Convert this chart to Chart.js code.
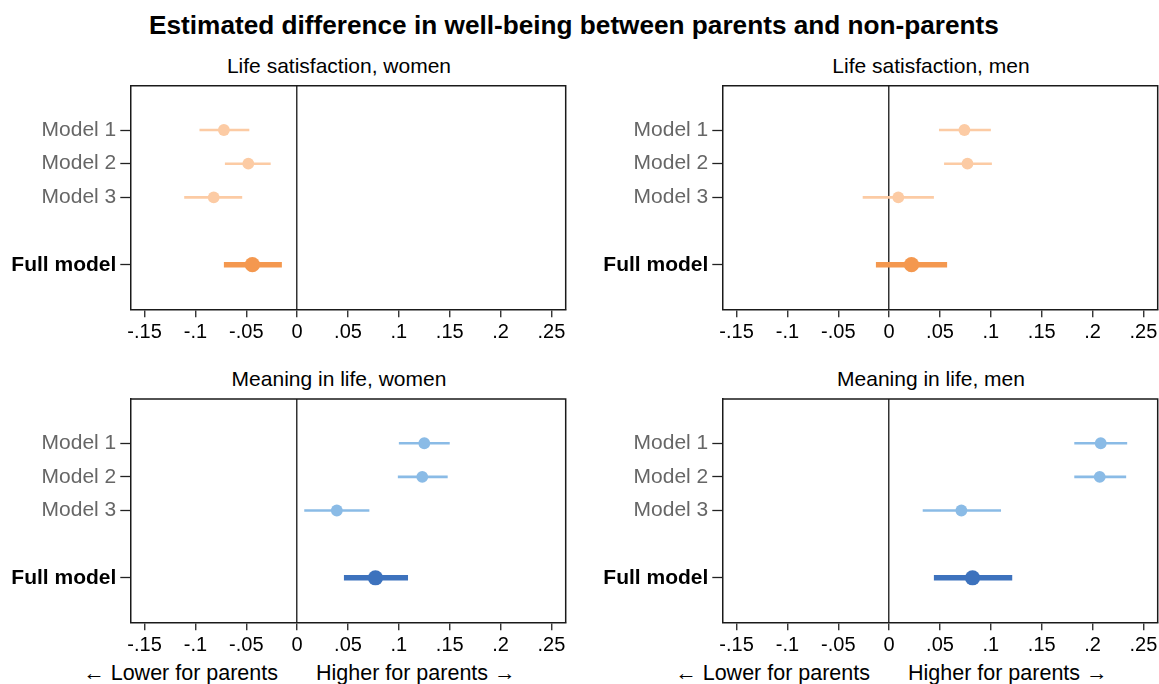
<!DOCTYPE html>
<html><head><meta charset="utf-8">
<script src="https://cdn.jsdelivr.net/npm/chart.js@4.4.0/dist/chart.umd.min.js"></script>
<style>
html,body{margin:0;padding:0;background:#fff;width:1159px;height:684px;overflow:hidden;position:relative;font-family:"Liberation Sans",Arial,Helvetica,sans-serif;}
canvas{position:absolute;}
.txt{position:absolute;white-space:nowrap;color:#000;}
.ptitle{font-size:21px;line-height:24px;text-align:center;width:400px;}
.note{font-size:21.5px;line-height:24px;}
</style></head><body>
<div class="txt" style="left:0;width:1148px;top:11px;text-align:center;font-size:26.2px;font-weight:bold;line-height:28px;">Estimated difference in well-being between parents and non-parents</div>
<div class="txt ptitle" style="left:139px;top:54px;">Life satisfaction, women</div>
<div class="txt ptitle" style="left:731px;top:54px;">Life satisfaction, men</div>
<div class="txt ptitle" style="left:139px;top:367px;">Meaning in life, women</div>
<div class="txt ptitle" style="left:731px;top:367px;">Meaning in life, men</div>
<div class="txt note" style="left:0;width:278px;text-align:right;top:661px;">← Lower for parents</div>
<div class="txt note" style="left:316px;top:661px;">Higher for parents →</div>
<div class="txt note" style="left:0;width:870px;text-align:right;top:661px;">← Lower for parents</div>
<div class="txt note" style="left:908px;top:661px;">Higher for parents →</div>
<canvas id="c1" width="580" height="280" style="left:0;top:80px;"></canvas>
<canvas id="c2" width="579" height="280" style="left:580px;top:80px;"></canvas>
<canvas id="c3" width="580" height="294" style="left:0;top:390px;"></canvas>
<canvas id="c4" width="579" height="294" style="left:580px;top:390px;"></canvas>
<script>
// ---- data ----
const rowLabels = ['Model 1', 'Model 2', 'Model 3', 'Full model'];
const rowPositions = [1, 2, 3, 5];
const xTickValues = [-0.15, -0.1, -0.05, 0, 0.05, 0.1, 0.15, 0.2, 0.25];
const xTickLabels = ['-.15', '-.1', '-.05', '0', '.05', '.1', '.15', '.2', '.25'];

const lsWomenEst = [-0.072, -0.048, -0.082, -0.044];
const lsWomenLo  = [-0.096, -0.071, -0.111, -0.072];
const lsWomenHi  = [-0.047, -0.026, -0.054, -0.015];

const lsMenEst = [0.074, 0.077, 0.009, 0.022];
const lsMenLo  = [0.049, 0.054, -0.026, -0.013];
const lsMenHi  = [0.100, 0.101, 0.044, 0.057];

const milWomenEst = [0.125, 0.123, 0.039, 0.077];
const milWomenLo  = [0.100, 0.099, 0.007, 0.046];
const milWomenHi  = [0.150, 0.148, 0.071, 0.109];

const milMenEst = [0.208, 0.207, 0.071, 0.082];
const milMenLo  = [0.182, 0.182, 0.033, 0.044];
const milMenHi  = [0.234, 0.233, 0.110, 0.121];

// ---- styles ----
const FONT = '"Liberation Sans", Arial, Helvetica, sans-serif';
const orangeLight = '#fccba4', orangeDark = '#f4984f';
const blueLight = '#8abbe6', blueDark = '#3d72bd';
const frameColor = '#1a1a1a';

const framePlugin = {
  id: 'frame',
  afterDraw(chart) {
    const a = chart.chartArea, ctx = chart.ctx;
    ctx.save();
    ctx.strokeStyle = frameColor;
    ctx.lineWidth = 1.5;
    ctx.beginPath();
    ctx.moveTo(a.left, a.top);
    ctx.lineTo(a.right, a.top);
    ctx.lineTo(a.right, a.bottom);
    ctx.stroke();
    ctx.restore();
  }
};

function makePanel(id, est, lo, hi, light, dark, lay) {
  const datasets = [];
  rowPositions.forEach((pos, i) => {
    const full = i === 3;
    datasets.push({
      type: 'line', showLine: true,
      data: [{x: lo[i], y: pos}, {x: hi[i], y: pos}],
      borderColor: full ? dark : light,
      borderWidth: full ? 5.5 : 2.6,
      borderCapStyle: 'butt',
      pointRadius: 0, pointHoverRadius: 0
    });
  });
  datasets.push({
    type: 'scatter',
    data: rowPositions.map((pos, i) => ({x: est[i], y: pos})),
    pointRadius: rowPositions.map((p, i) => i === 3 ? 7.6 : 5.9),
    pointBackgroundColor: rowPositions.map((p, i) => i === 3 ? dark : light),
    pointBorderWidth: 0,
    pointBorderColor: 'rgba(0,0,0,0)'
  });
  return new Chart(document.getElementById(id), {
    type: 'scatter',
    data: {datasets},
    plugins: [framePlugin],
    options: {
      responsive: false, animation: false, devicePixelRatio: 1,
      layout: {autoPadding: false, padding: {left: 0, top: lay.padTop, right: lay.padRight, bottom: 0}},
      plugins: {legend: {display: false}, tooltip: {enabled: false}, title: {display: false}},
      scales: {
        x: {
          type: 'linear', position: 'bottom', min: -0.164, max: 0.264,
          afterBuildTicks: s => { s.ticks = xTickValues.map(v => ({value: v})); },
          afterFit: s => { s.height = lay.xAxisHeight; s.paddingLeft = 0; s.paddingRight = 0; },
          border: {display: true, color: frameColor, width: 1.5},
          grid: {
            display: true, drawOnChartArea: true, drawTicks: true, tickLength: 8,
            color: c => (c.tick && c.tick.value === 0) ? '#333333' : 'rgba(0,0,0,0)',
            lineWidth: 1.5, tickColor: '#222', tickWidth: 1.3
          },
          ticks: {
            autoSkip: false, maxRotation: 0, padding: 3, color: '#000',
            font: {family: FONT, size: 20},
            callback: (v, i) => xTickLabels[i]
          }
        },
        y: {
          type: 'linear', position: 'left', reverse: true, min: -0.316, max: 6.324,
          afterBuildTicks: s => { s.ticks = rowPositions.map(v => ({value: v})); },
          afterFit: s => { s.width = lay.yAxisWidth; s.paddingTop = 0; s.paddingBottom = 0; },
          border: {display: true, color: frameColor, width: 1.5},
          grid: {display: true, drawOnChartArea: false, drawTicks: true, tickLength: 10, tickColor: '#222', tickWidth: 1.3},
          ticks: {
            autoSkip: false, padding: 4,
            color: c => (c.tick && c.tick.value === 5) ? '#000' : '#666',
            font: c => ({family: FONT, size: 21, weight: (c.tick && c.tick.value === 5) ? 'bold' : 'normal'}),
            callback: v => rowLabels[rowPositions.indexOf(v)]
          }
        }
      }
    }
  });
}

makePanel('c1', lsWomenEst, lsWomenLo, lsWomenHi, orangeLight, orangeDark,
  {yAxisWidth: 130.3, padTop: 5.7, padRight: 14.3, xAxisHeight: 50.7});
makePanel('c2', lsMenEst, lsMenLo, lsMenHi, orangeLight, orangeDark,
  {yAxisWidth: 142.3, padTop: 5.7, padRight: 1.3, xAxisHeight: 50.7});
makePanel('c3', milWomenEst, milWomenLo, milWomenHi, blueLight, blueDark,
  {yAxisWidth: 130.3, padTop: 9, padRight: 14.3, xAxisHeight: 61.7});
makePanel('c4', milMenEst, milMenLo, milMenHi, blueLight, blueDark,
  {yAxisWidth: 142.3, padTop: 9, padRight: 1.3, xAxisHeight: 61.7});
</script>
</body></html>
